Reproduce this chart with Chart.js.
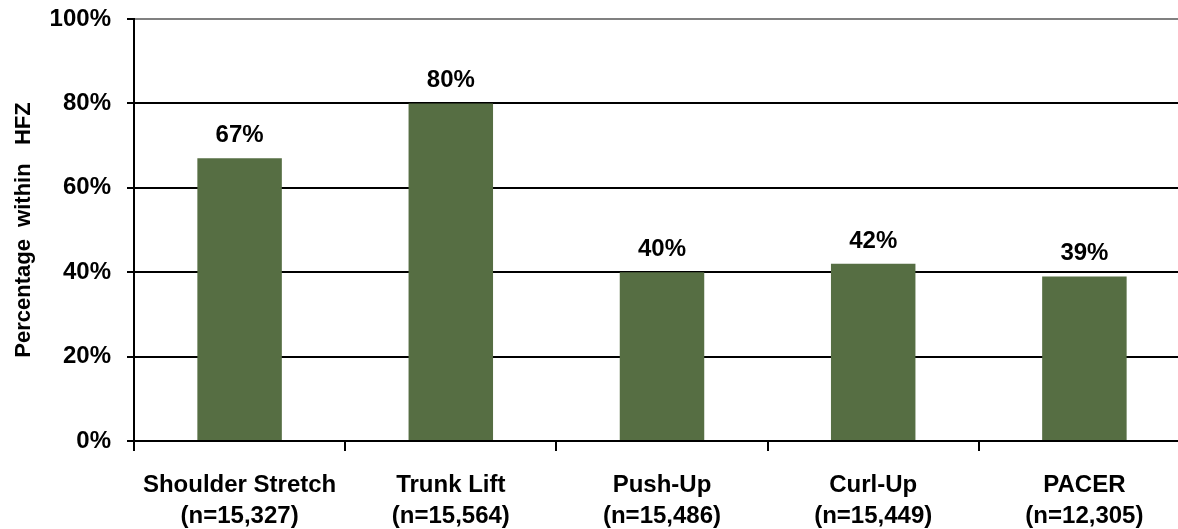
<!DOCTYPE html>
<html>
<head>
<meta charset="utf-8">
<script src="https://cdn.jsdelivr.net/npm/chart.js@4"></script>
<style>
  html, body { margin: 0; padding: 0; background: #ffffff; overflow: hidden; }
  #wrap { position: relative; width: 1190px; height: 529px; }
</style>
</head>
<body>
<div id="wrap"><canvas id="chart"></canvas></div>
<script>
// Fitness tests and share of students within the Healthy Fitness Zone
const tests = ['Shoulder Stretch', 'Trunk Lift', 'Push-Up', 'Curl-Up', 'PACER'];
const sampleSizes = ['15,327', '15,564', '15,486', '15,449', '12,305'];
const pctHFZ = [67, 80, 40, 42, 39];
const yTickValues = [0, 20, 40, 60, 80, 100];

const FONT = '"Liberation Sans", Arial, sans-serif';
const BAR_COLOR = '#566e43';

const labels = tests.map((t, i) => [t, '(n=' + sampleSizes[i] + ')']);

// Percentage printed above each bar
const valueLabels = {
  id: 'valueLabels',
  afterDatasetsDraw(chart) {
    const { ctx } = chart;
    const meta = chart.getDatasetMeta(0);
    ctx.save();
    ctx.font = 'bold 24px ' + FONT;
    ctx.fillStyle = '#000000';
    ctx.textAlign = 'center';
    ctx.textBaseline = 'alphabetic';
    meta.data.forEach((bar, i) => {
      ctx.fillText(pctHFZ[i] + '%', bar.x, bar.y - 16);
    });
    ctx.restore();
  }
};

new Chart(document.getElementById('chart'), {
  type: 'bar',
  data: {
    labels: labels,
    datasets: [{
      data: pctHFZ,
      backgroundColor: BAR_COLOR,
      borderWidth: 0,
      barPercentage: 0.4,
      categoryPercentage: 1.0
    }]
  },
  options: {
    responsive: true,
    maintainAspectRatio: false,
    animation: false,
    layout: { padding: { top: 19, right: 0, bottom: 0, left: 0 } },
    plugins: {
      legend: { display: false },
      tooltip: { enabled: false }
    },
    scales: {
      x: {
        offset: true,
        afterFit(scale) { scale.height = 88; },
        grid: {
          offset: true,
          drawOnChartArea: false,
          drawTicks: true,
          tickLength: 10,
          color: '#000000',
          lineWidth: 2
        },
        border: { display: true, color: '#000000', width: 2 },
        ticks: {
          color: '#000000',
          padding: 19,
          maxRotation: 0,
          autoSkip: false,
          font: { family: FONT, size: 24, weight: 'bold', lineHeight: 1.3 }
        }
      },
      y: {
        min: 0,
        max: 100,
        afterFit(scale) {
          scale.width = 134;
          scale.paddingTop = 0;
          scale.paddingBottom = 0;
        },
        afterBuildTicks(scale) { scale.ticks = yTickValues.map(v => ({ value: v })); },
        grid: {
          color: ctx => (ctx.tick && ctx.tick.value === 100) ? '#808080' : '#000000',
          tickColor: '#000000',
          lineWidth: 2,
          tickLength: 7,
          drawTicks: true
        },
        border: { display: true, color: '#000000', width: 2 },
        ticks: {
          color: '#000000',
          padding: 16,
          font: { family: FONT, size: 24, weight: 'bold' },
          callback: v => v + '%'
        },
        title: {
          display: true,
          text: 'Percentage  within   HFZ',
          color: '#000000',
          font: { family: FONT, size: 22, weight: 'bold' },
          padding: { top: 11, bottom: 0 }
        }
      }
    }
  },
  plugins: [valueLabels]
});
</script>
</body>
</html>
